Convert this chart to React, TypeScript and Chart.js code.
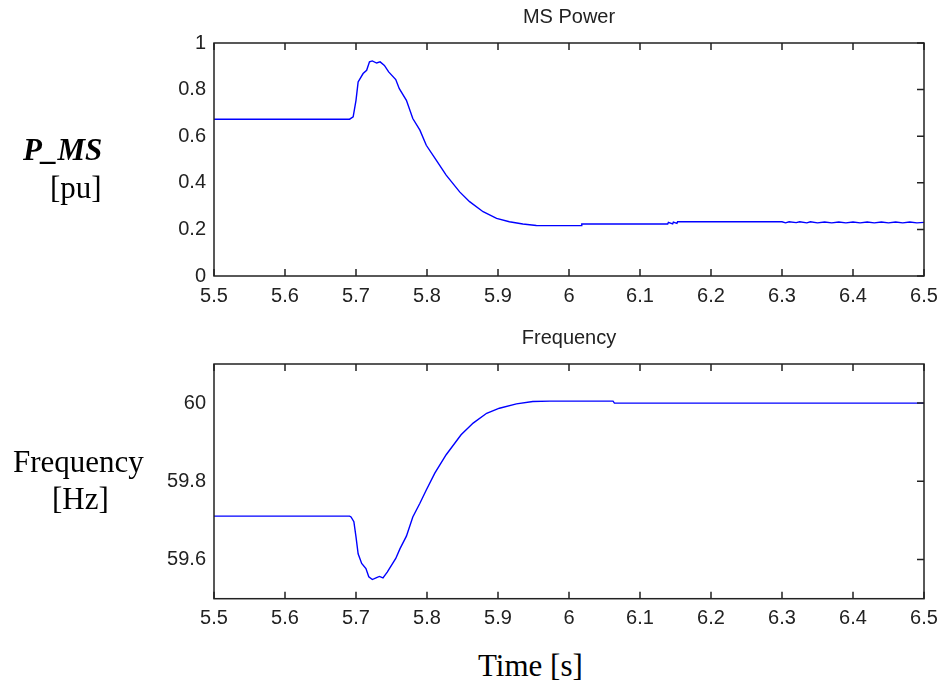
import React, { useEffect, useRef } from "react";
import { Chart, registerables } from "chart.js";

Chart.register(...registerables);

// ---- Data ----
const TIME_P = [
  5.5, 5.691, 5.696, 5.7, 5.703, 5.71, 5.715, 5.719, 5.723, 5.729, 5.734, 5.74, 5.746,
  5.756, 5.761, 5.771, 5.78, 5.79, 5.799, 5.813, 5.827, 5.846, 5.86, 5.879, 5.898, 5.916,
  5.935, 5.954, 5.973, 6.017, 6.018, 6.139, 6.14, 6.146, 6.147, 6.152, 6.153, 6.3, 6.305,
  6.31, 6.32, 6.325, 6.335, 6.34, 6.35, 6.36, 6.37, 6.38, 6.39, 6.4, 6.41, 6.42, 6.43,
  6.44, 6.45, 6.46, 6.47, 6.48, 6.49, 6.5,
];
const P_MS = [
  0.673, 0.673, 0.683, 0.754, 0.833, 0.869, 0.883, 0.919, 0.923, 0.914, 0.919, 0.904, 0.876,
  0.843, 0.804, 0.754, 0.676, 0.626, 0.561, 0.497, 0.433, 0.361, 0.319, 0.276, 0.247, 0.233,
  0.223, 0.217, 0.216, 0.216, 0.223, 0.223, 0.23, 0.224, 0.231, 0.226, 0.233, 0.233, 0.228,
  0.233, 0.229, 0.233, 0.228, 0.233, 0.228, 0.232, 0.228, 0.232, 0.228, 0.232, 0.228, 0.232,
  0.228, 0.232, 0.228, 0.232, 0.228, 0.232, 0.228, 0.23,
];
const TIME_F = [
  5.5, 5.691, 5.693, 5.697, 5.7, 5.703, 5.708, 5.714, 5.718, 5.723, 5.729, 5.733, 5.738,
  5.744, 5.756, 5.762, 5.771, 5.78, 5.79, 5.799, 5.811, 5.827, 5.848, 5.865, 5.884, 5.902,
  5.926, 5.949, 5.973, 6.062, 6.064, 6.5,
];
const FREQ = [
  59.711, 59.711, 59.709, 59.697, 59.658, 59.615, 59.59, 59.577, 59.556, 59.549, 59.554,
  59.557, 59.553, 59.568, 59.603, 59.628, 59.66, 59.709, 59.744, 59.778, 59.821, 59.868,
  59.919, 59.949, 59.974, 59.987, 59.998, 60.004, 60.005, 60.005, 60.0, 60.0,
];
const X_TICKS = [5.5, 5.6, 5.7, 5.8, 5.9, 6.0, 6.1, 6.2, 6.3, 6.4, 6.5];
const P_TICKS = [0, 0.2, 0.4, 0.6, 0.8, 1];
const F_TICKS = [59.6, 59.8, 60];

const TITLE_TOP = "MS Power";
const TITLE_BOTTOM = "Frequency";

const AXIS_COLOR = "#222";
const SANS = '"Liberation Sans", Arial, sans-serif';

const fmt = (v: number) => String(Number(v.toFixed(2)));

const boxPlugin = {
  id: "matlabBox",
  afterDraw(chart: any) {
    const { ctx, chartArea: a, scales } = chart;
    ctx.save();
    ctx.strokeStyle = AXIS_COLOR;
    ctx.lineWidth = 1.5;
    ctx.strokeRect(a.left, a.top, a.right - a.left, a.bottom - a.top);
    const tl = 7;
    ctx.beginPath();
    scales.x.ticks.forEach((t: any) => {
      const px = scales.x.getPixelForValue(t.value);
      ctx.moveTo(px, a.bottom);
      ctx.lineTo(px, a.bottom - tl);
      ctx.moveTo(px, a.top);
      ctx.lineTo(px, a.top + tl);
    });
    scales.y.ticks.forEach((t: any) => {
      const py = scales.y.getPixelForValue(t.value);
      ctx.moveTo(a.right, py);
      ctx.lineTo(a.right - tl, py);
    });
    ctx.stroke();
    ctx.restore();
  },
};

function makeConfig(
  xs: number[],
  ys: number[],
  title: string,
  yMin: number,
  yMax: number,
  yTicks: number[],
  titlePadTop: number,
  xAxisHeight: number
): any {
  return {
    type: "line",
    data: {
      datasets: [
        {
          data: xs.map((x, i) => ({ x, y: ys[i] })),
          borderColor: "#0000ff",
          borderWidth: 1.4,
          pointRadius: 0,
          tension: 0,
          fill: false,
        },
      ],
    },
    options: {
      responsive: false,
      animation: false,
      layout: { padding: { left: 0, right: 19, top: 0, bottom: 0 } },
      plugins: {
        legend: { display: false },
        tooltip: { enabled: false },
        title: {
          display: true,
          fullSize: false,
          text: title,
          color: AXIS_COLOR,
          font: { family: SANS, size: 20, weight: "normal", lineHeight: 1.2 },
          padding: { top: titlePadTop, bottom: 14 },
        },
      },
      scales: {
        x: {
          type: "linear",
          min: 5.5,
          max: 6.5,
          grid: { display: false, drawTicks: false },
          border: { display: false },
          afterBuildTicks: (s: any) => {
            s.ticks = X_TICKS.map((v) => ({ value: v }));
          },
          afterFit: (s: any) => {
            s.height = xAxisHeight;
            s.paddingLeft = 0;
            s.paddingRight = 0;
          },
          ticks: {
            color: AXIS_COLOR,
            font: { family: SANS, size: 20 },
            padding: 8,
            maxRotation: 0,
            autoSkip: false,
            callback: (v: number) => fmt(v),
          },
        },
        y: {
          type: "linear",
          min: yMin,
          max: yMax,
          grid: { display: false, drawTicks: false },
          border: { display: false },
          afterBuildTicks: (s: any) => {
            s.ticks = yTicks.map((v) => ({ value: v }));
          },
          afterFit: (s: any) => {
            s.width = 214;
          },
          ticks: {
            color: AXIS_COLOR,
            font: { family: SANS, size: 20 },
            padding: 8,
            autoSkip: false,
            callback: (v: number) => fmt(v),
          },
        },
      },
    },
    plugins: [boxPlugin],
  };
}

export default function App() {
  const topRef = useRef<HTMLCanvasElement>(null);
  const botRef = useRef<HTMLCanvasElement>(null);

  useEffect(() => {
    const c1 = new Chart(
      topRef.current as HTMLCanvasElement,
      makeConfig(TIME_P, P_MS, TITLE_TOP, 0, 1, P_TICKS, 5, 44)
    );
    const c2 = new Chart(
      botRef.current as HTMLCanvasElement,
      makeConfig(TIME_F, FREQ, TITLE_BOTTOM, 59.5, 60.1, F_TICKS, 6, 45.3)
    );
    return () => {
      c1.destroy();
      c2.destroy();
    };
  }, []);

  const serif: React.CSSProperties = {
    position: "absolute",
    fontFamily: '"Liberation Serif", "Times New Roman", serif',
    fontSize: 31,
    lineHeight: "31px",
    color: "#000",
    whiteSpace: "nowrap",
    margin: 0,
  };

  return (
    <div
      style={{
        position: "absolute",
        left: 0,
        top: 0,
        width: 943,
        height: 682,
        background: "#fff",
        overflow: "hidden",
      }}
    >
      <canvas
        ref={topRef}
        width={943}
        height={320}
        style={{ position: "absolute", left: 0, top: 0 }}
      />
      <canvas
        ref={botRef}
        width={943}
        height={324}
        style={{ position: "absolute", left: 0, top: 320 }}
      />
      <div style={{ ...serif, left: 23, top: 134, fontWeight: "bold", fontStyle: "italic" }}>
        P_MS
      </div>
      <div style={{ ...serif, left: 50, top: 172 }}>[pu]</div>
      <div style={{ ...serif, left: 13, top: 446 }}>Frequency</div>
      <div style={{ ...serif, left: 52, top: 483 }}>[Hz]</div>
      <div style={{ ...serif, left: 478, top: 650 }}>Time [s]</div>
    </div>
  );
}
